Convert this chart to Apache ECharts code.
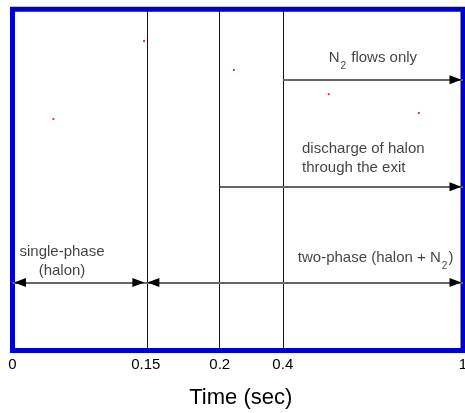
<!DOCTYPE html>
<html><head><meta charset="utf-8">
<script src="https://cdn.jsdelivr.net/npm/echarts@6/dist/echarts.min.js"></script>
<style>html,body{margin:0;padding:0;background:#fff}#c{width:465px;height:413px}</style>
</head><body><div id="c"></div>
<script>
// ---- data ----
const timeTicks = [0, 0.15, 0.2, 0.4, 1];
const tickLabels = ['0', '0.15', '0.2', '0.4', '1'];
// the original axis is not linear: share of the axis length reached at each tick
const axisShare = [0, 0.296, 0.46, 0.6, 1];
const phaseBoundaries = [0.15, 0.2, 0.4];
const dotTimes = [0.046, 0.148, 0.245, 0.553, 0.853];
const dotLevels = [0.678, 0.907, 0.822, 0.751, 0.696];
const arrowStart = [0.4, 0.2, 0, 0.15];
const arrowEnd = [1, 1, 0.15, 1];
const arrowLevel = [0.793, 0.48, 0.199, 0.199];
const arrowTwoHeaded = [false, false, true, true];
const noteTexts = ['N{sub|2} flows only', 'discharge of halon\nthrough the exit', 'single-phase\n(halon)', 'two-phase (halon + N{sub|2})'];
const noteTimes = [0.7, 0.464, 0.0557, 0.45];
const noteLevels = [0.857, 0.563, 0.261, 0.271];
const axisTitle = 'Time (sec)';

// ---- build ----
function warp(t) {
  for (let i = 1; i < timeTicks.length; i++) {
    if (t <= timeTicks[i]) {
      const a = timeTicks[i - 1], b = timeTicks[i];
      return axisShare[i - 1] + (t - a) / (b - a) * (axisShare[i] - axisShare[i - 1]);
    }
  }
  return 1;
}
const FONT = "'Liberation Sans', Arial, sans-serif";
const noteAlign = ['center', 'left', 'center', 'left'];
const head = { symbol: 'triangle', symbolSize: [9, 12], symbolOffset: [0, 7.5] };

const arrowLines = arrowStart.map((s, i) => [
  { coord: [warp(s), arrowLevel[i]], symbol: 'none' },
  { coord: [warp(arrowEnd[i]), arrowLevel[i]], symbol: 'none' }
]);
const arrowHeads = arrowStart.map((s, i) => [
  Object.assign({ coord: [warp(s), arrowLevel[i]] }, arrowTwoHeaded[i] ? head : { symbol: 'none' }),
  Object.assign({ coord: [warp(arrowEnd[i]), arrowLevel[i]] }, head)
]);

const chart = echarts.init(document.getElementById('c'), null, { renderer: 'canvas' });
chart.setOption({
  animation: false,
  backgroundColor: '#fff',
  textStyle: { fontFamily: FONT },
  grid: {
    left: 12.5, right: 2, top: 9.2, bottom: 62.5,
    show: true, borderColor: '#0000CC', borderWidth: 5, backgroundColor: 'transparent',
    outerBoundsMode: 'none'
  },
  xAxis: {
    type: 'value', min: 0, max: 1,
    axisLine: { show: false }, axisTick: { show: false }, splitLine: { show: false },
    axisLabel: {
      customValues: axisShare,
      formatter: v => { const k = axisShare.findIndex(a => Math.abs(a - v) < 1e-6); return k < 0 ? '' : tickLabels[k]; },
      color: '#000', fontSize: 15, fontFamily: FONT, margin: 7
    },
    name: axisTitle, nameLocation: 'middle', nameGap: 36,
    nameTextStyle: { color: '#000', fontSize: 22, fontFamily: FONT, padding: [0, 0, 0, 6] }
  },
  yAxis: { type: 'value', min: 0, max: 1, show: false },
  series: [
    {
      type: 'scatter', name: 'dots', z: 5,
      data: dotTimes.map((t, i) => [warp(t), dotLevels[i]]),
      symbol: 'rect', symbolSize: 2, itemStyle: { color: '#E00000' },
      markLine: {
        silent: true, symbol: ['none', 'none'], label: { show: false },
        lineStyle: { color: '#111', width: 1, type: 'solid' },
        emphasis: { disabled: true },
        data: phaseBoundaries.map(t => ({ xAxis: warp(t) }))
      }
    },
    {
      type: 'scatter', name: 'arrowLines', data: [], z: 3,
      markLine: {
        silent: true, label: { show: false }, symbol: ['none', 'none'],
        lineStyle: { color: '#666', width: 2, type: 'solid' },
        emphasis: { disabled: true },
        data: arrowLines
      }
    },
    {
      type: 'scatter', name: 'arrowHeads', data: [], z: 4,
      markLine: {
        silent: true, label: { show: false },
        lineStyle: { color: '#000', width: 0, type: 'solid' },
        emphasis: { disabled: true },
        data: arrowHeads
      }
    },
    {
      type: 'scatter', name: 'notes', z: 6, silent: true,
      symbolSize: 1, itemStyle: { color: 'rgba(0,0,0,0)' },
      data: noteTexts.map((txt, i) => ({
        value: [warp(noteTimes[i]), noteLevels[i]],
        label: {
          show: true, position: 'inside', formatter: txt,
          align: noteAlign[i], verticalAlign: 'middle',
          color: '#111', fontSize: 15, lineHeight: 19.5, fontFamily: FONT,
          rich: { sub: { fontSize: 10, padding: [16, 1, 0, 1], color: '#111', fontFamily: FONT } }
        }
      }))
    }
  ]
});
</script>
</body></html>
